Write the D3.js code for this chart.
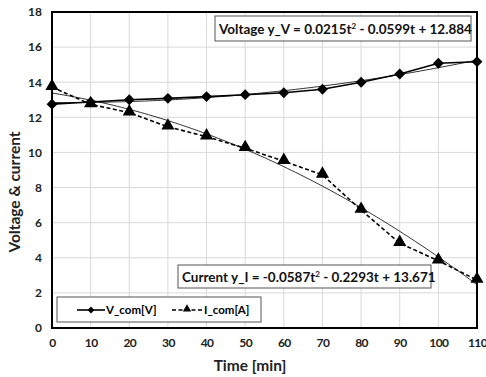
<!DOCTYPE html>
<html>
<head>
<meta charset="utf-8">
<script src="https://cdn.jsdelivr.net/npm/d3@7"></script>
<style>
  body { margin: 0; background: #fff; }
  text { font-family: Lato, "Open Sans", sans-serif; font-weight: bold; }
</style>
</head>
<body>
<svg id="chart"></svg>
<script>
// data
const times = [0, 10, 20, 30, 40, 50, 60, 70, 80, 90, 100, 110];
const voltage = [12.75, 12.87, 13.0, 13.08, 13.18, 13.29, 13.4, 13.6, 14.0, 14.47, 15.08, 15.17];
const current = [13.72, 12.74, 12.27, 11.46, 10.9, 10.24, 9.5, 8.72, 6.72, 4.83, 3.83, 2.73];
// trendline coefficients from the labels (t = sample index 1..12)
const voltageFit = [0.0215, -0.0599, 12.884];
const currentFit = [-0.0587, -0.2293, 13.671];
const xTicks = [0, 10, 20, 30, 40, 50, 60, 70, 80, 90, 100, 110];
const yTicks = [0, 2, 4, 6, 8, 10, 12, 14, 16, 18];

const width = 486, height = 377;
const margin = { left: 52, right: 9, top: 12, bottom: 49 };

const svg = d3.select("#chart")
  .attr("width", width)
  .attr("height", height);

const x = d3.scaleLinear().domain([0, 110]).range([margin.left, width - margin.right]);
const y = d3.scaleLinear().domain([0, 18]).range([height - margin.bottom, margin.top]);

// gridlines
svg.append("g")
  .selectAll("line.gx")
  .data(xTicks)
  .enter()
  .append("line")
  .attr("x1", d => x(d)).attr("x2", d => x(d))
  .attr("y1", y(0)).attr("y2", y(18))
  .attr("stroke", "#d9d9d9").attr("stroke-width", 1);

svg.append("g")
  .selectAll("line.gy")
  .data(yTicks)
  .enter()
  .append("line")
  .attr("x1", x(0)).attr("x2", x(110))
  .attr("y1", d => y(d)).attr("y2", d => y(d))
  .attr("stroke", "#d9d9d9").attr("stroke-width", 1);

// axes (labels only, frame drawn below)
const xAxis = svg.append("g")
  .attr("transform", `translate(0, ${y(0)})`)
  .call(d3.axisBottom(x).tickValues(xTicks).tickSize(0).tickPadding(10));
xAxis.select(".domain").remove();
xAxis.selectAll("text").attr("font-size", 12).attr("fill", "#222")
  .attr("letter-spacing", -0.6);

const yAxis = svg.append("g")
  .attr("transform", `translate(${x(0)}, 0)`)
  .call(d3.axisLeft(y).tickValues(yTicks).tickSize(0).tickPadding(10));
yAxis.select(".domain").remove();
yAxis.selectAll("text").attr("font-size", 12).attr("fill", "#222");

// trendlines
const fitPoints = (c) => d3.range(0, 110.01, 1).map(t => {
  const k = t / 10 + 1;
  return [t, c[0] * k * k + c[1] * k + c[2]];
});
const fitLine = d3.line().x(d => x(d[0])).y(d => y(d[1]));

svg.append("path")
  .attr("d", fitLine(fitPoints(voltageFit)))
  .attr("fill", "none").attr("stroke", "#000").attr("stroke-width", 0.8);
svg.append("path")
  .attr("d", fitLine(fitPoints(currentFit)))
  .attr("fill", "none").attr("stroke", "#000").attr("stroke-width", 0.8);

// series lines
const line = d3.line().x((d, i) => x(times[i])).y(d => y(d));

svg.append("path")
  .attr("d", line(voltage))
  .attr("fill", "none").attr("stroke", "#000").attr("stroke-width", 1.6);

svg.append("path")
  .attr("d", line(current))
  .attr("fill", "none").attr("stroke", "#000").attr("stroke-width", 1.6)
  .attr("stroke-dasharray", "4,2.5");

// markers
const diamond = d3.symbol().type(d3.symbolDiamond2).size(75);
const triangle = d3.symbol().type(d3.symbolTriangle).size(75);

svg.append("g")
  .selectAll("path")
  .data(voltage)
  .enter()
  .append("path")
  .attr("d", diamond)
  .attr("transform", (d, i) => `translate(${x(times[i])}, ${y(d)})`)
  .attr("fill", "#000");

svg.append("g")
  .selectAll("path")
  .data(current)
  .enter()
  .append("path")
  .attr("d", triangle)
  .attr("transform", (d, i) => `translate(${x(times[i])}, ${y(d) - 1})`)
  .attr("fill", "#000");

// plot frame
svg.append("rect")
  .attr("x", x(0)).attr("y", y(18))
  .attr("width", x(110) - x(0)).attr("height", y(0) - y(18))
  .attr("fill", "none").attr("stroke", "#000").attr("stroke-width", 2);

// equation boxes
function labelBox(bx, by, bw, bh, parts) {
  svg.append("rect")
    .attr("x", bx).attr("y", by).attr("width", bw).attr("height", bh)
    .attr("fill", "#fff").attr("stroke", "#555").attr("stroke-width", 1);
  const t = svg.append("text")
    .attr("x", bx + 4).attr("y", by + bh / 2 + 5)
    .attr("font-size", 13.5).attr("fill", "#111");
  parts.forEach(p => {
    const s = t.append("tspan").text(p.text);
    if (p.sup) s.attr("font-size", 8).attr("dy", -5);
    if (p.down) s.attr("dy", 5);
  });
}

labelBox(215, 16, 256, 25, [
  { text: "Voltage  y_V = 0.0215t" }, { text: "2", sup: true },
  { text: " - 0.0599t + 12.884", down: true }
]);
labelBox(178, 265, 253, 23, [
  { text: "Current y_I = -0.0587t" }, { text: "2", sup: true },
  { text: " - 0.2293t + 13.671", down: true }
]);

// legend
const legend = svg.append("g");
legend.append("rect")
  .attr("x", 57).attr("y", 297).attr("width", 204).attr("height", 25)
  .attr("fill", "#fff").attr("stroke", "#555").attr("stroke-width", 1);
legend.append("line")
  .attr("x1", 77).attr("x2", 105).attr("y1", 310).attr("y2", 310)
  .attr("stroke", "#000").attr("stroke-width", 1.6);
legend.append("path").attr("d", d3.symbol().type(d3.symbolDiamond2).size(30))
  .attr("transform", "translate(91, 310)");
legend.append("text").attr("x", 106).attr("y", 314)
  .attr("font-size", 11.5).attr("font-weight", "normal").text("V_com[V]");
legend.append("line")
  .attr("x1", 172).attr("x2", 202).attr("y1", 310).attr("y2", 310)
  .attr("stroke", "#000").attr("stroke-width", 1.6).attr("stroke-dasharray", "4,2.5");
legend.append("path").attr("d", d3.symbol().type(d3.symbolTriangle).size(30))
  .attr("transform", "translate(187, 309)");
legend.append("text").attr("x", 204).attr("y", 314)
  .attr("font-size", 11.5).attr("font-weight", "normal").text("I_com[A]");

// axis titles
svg.append("text")
  .attr("x", 250).attr("y", 371)
  .attr("text-anchor", "middle").attr("font-size", 15.5).attr("fill", "#222")
  .text("Time [min]");
svg.append("text")
  .attr("transform", "translate(20, 192) rotate(-90)")
  .attr("text-anchor", "middle").attr("font-size", 15.5).attr("fill", "#222")
  .text("Voltage & current");
</script>
</body>
</html>
